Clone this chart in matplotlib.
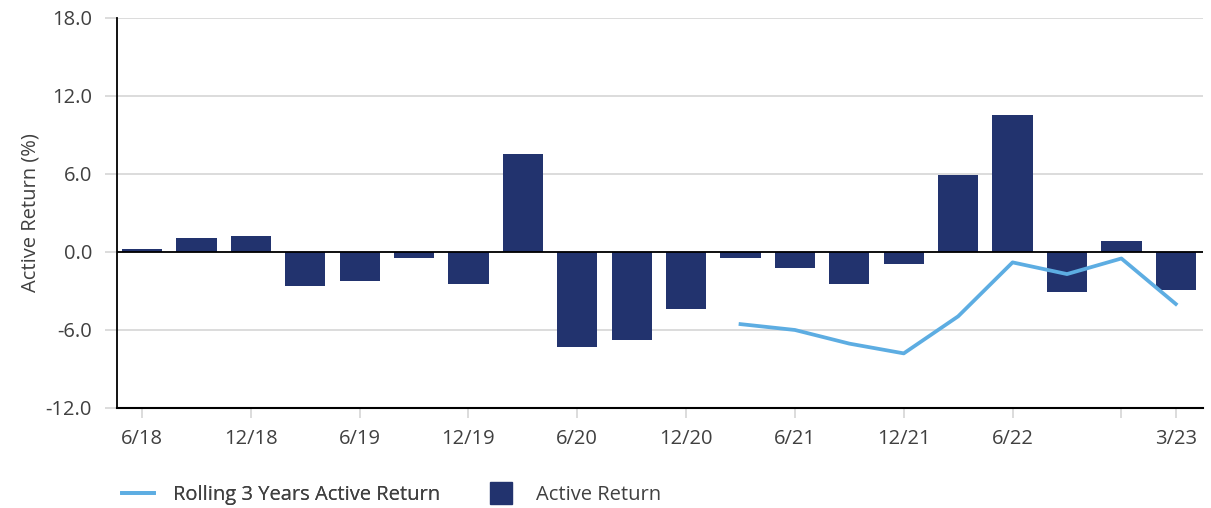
import matplotlib.pyplot as plt
from matplotlib.lines import Line2D

plt.rcParams['font.family'] = ['Open Sans', 'DejaVu Sans']

quarters = ["6/18", "9/18", "12/18", "3/19", "6/19", "9/19", "12/19", "3/20",
            "6/20", "9/20", "12/20", "3/21", "6/21", "9/21", "12/21", "3/22",
            "6/22", "9/22", "12/22", "3/23"]
active_return = [0.2, 1.05, 1.2, -2.65, -2.2, -0.5, -2.5, 7.5,
                 -7.3, -6.8, -4.35, -0.5, -1.25, -2.5, -0.95, 5.95,
                 10.55, -3.1, 0.85, -2.95]
rolling_3y = [None] * 11 + [-5.55, -6.0, -7.05, -7.8, -4.95, -0.8, -1.7, -0.5, -4.0]
tick_idx = [0, 2, 4, 6, 8, 10, 12, 14, 16, 18, 19]
tick_labels = ["6/18", "12/18", "6/19", "12/19", "6/20", "12/20", "6/21", "12/21", "6/22", "", "3/23"]

bar_color = "#22336E"
line_color = "#5DADE2"
text_color = "#404040"
fs = 14.5

fig = plt.figure(figsize=(12.11, 5.08), dpi=100)
ax = fig.add_axes([0.0966, 0.1969, 0.8968, 0.7677])

x = list(range(len(quarters)))
ax.bar(x, active_return, width=0.74, color=bar_color, zorder=3)
lx = [i for i, v in zip(x, rolling_3y) if v is not None]
ly = [v for v in rolling_3y if v is not None]
ax.plot(lx, ly, color=line_color, linewidth=2.7, zorder=4)
ax.axhline(0, color="black", linewidth=1.3, zorder=3)

ax.set_xlim(-0.46, 19.5)
ax.set_ylim(-12, 18)
ax.set_yticks([-12, -6, 0, 6, 12, 18])
ax.set_yticklabels(["-12.0", "-6.0", "0.0", "6.0", "12.0", "18.0"])
ax.yaxis.grid(True, color="#d9d9d9", linewidth=1.3, zorder=0)
ax.set_axisbelow(True)
ax.set_xticks(tick_idx)
ax.set_xticklabels(tick_labels)

ax.tick_params(axis="y", length=9, width=1.3, color="#d9d9d9", pad=9,
               labelsize=fs, labelcolor=text_color)
ax.tick_params(axis="x", length=7, width=1.3, color="#d9d9d9", pad=8,
               labelsize=fs, labelcolor=text_color, direction="out")
for s in ["top", "right"]:
    ax.spines[s].set_visible(False)
ax.spines["left"].set_linewidth(1.3)
ax.spines["bottom"].set_linewidth(1.5)
ax.set_ylabel("Active Return (%)", fontsize=fs, color=text_color, labelpad=4)

h1 = [Line2D([], [], color=line_color, linewidth=2.7)]
h2 = [Line2D([], [], color=bar_color, marker="s", linestyle="none", markersize=16)]
leg1 = fig.legend(h1, ["Rolling 3 Years Active Return"], loc="center left",
                  bbox_to_anchor=(122 / 1211, 1 - 495 / 508), frameon=False,
                  borderpad=0, borderaxespad=0, handlelength=1.6, handletextpad=0.95,
                  fontsize=fs, labelcolor=text_color)
leg2 = fig.legend(h2, ["Active Return"], loc="center left",
                  bbox_to_anchor=(490 / 1211, 1 - 495 / 508), frameon=False,
                  borderpad=0, borderaxespad=0, handlelength=1.1, handletextpad=1.2,
                  fontsize=fs, labelcolor=text_color)
fig.add_artist(leg1)

fig.savefig("out.png", dpi=100)
